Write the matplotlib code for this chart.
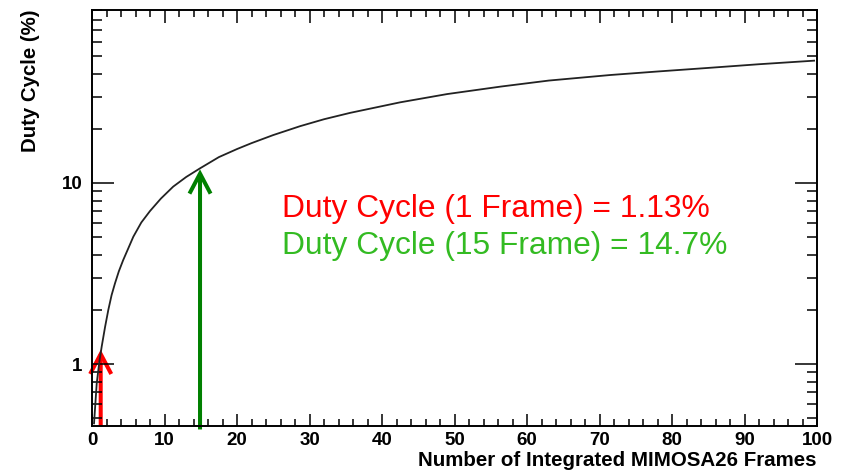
import matplotlib
matplotlib.use("Agg")
import matplotlib.pyplot as plt
from matplotlib.patches import FancyArrowPatch
from matplotlib.ticker import FixedLocator, LogLocator, NullFormatter, MultipleLocator

# ---- data ----
frames = [0.28, 0.65, 1.0, 1.34, 1.8, 2.25, 2.7, 3.17, 3.7, 4.3, 5.0, 5.7,
          6.8, 8.0, 9.5, 11.2, 13.0, 14.9, 17.5, 20.0, 22.0, 25.0, 28.7,
          32.0, 35.6, 42.5, 49.0, 56.4, 63.0, 71.5, 78.0, 84.9, 92.0, 99.6]
duty = [0.47, 0.78, 1.02, 1.25, 1.60, 1.99, 2.40, 2.79, 3.25, 3.75, 4.35,
        5.05, 6.05, 7.00, 8.20, 9.55, 10.8, 12.05, 13.9, 15.4, 16.6, 18.4,
        20.6, 22.5, 24.4, 27.9, 31.0, 34.1, 36.8, 39.5, 41.3, 43.2, 45.3, 47.4]

x_ticks = [0, 10, 20, 30, 40, 50, 60, 70, 80, 90, 100]
x_tick_labels = [str(v) for v in x_ticks]
y_ticks = [1, 10]
y_tick_labels = ['1', '10']

arrow_x = [1.2, 14.9]
arrow_base = [0.4545, 0.435]
arrow_tip = [1.2, 11.9]
arrow_colors = ['#ff0000', '#008000']

ann_texts = ['Duty Cycle (1 Frame) = 1.13%', 'Duty Cycle (15 Frame) = 14.7%']
ann_colors = ['#ff0000', '#33bb22']

xlabel = 'Number of Integrated MIMOSA26 Frames'
ylabel = 'Duty Cycle (%)'

# ---- figure ----
W, H = 848, 471
fig = plt.figure(figsize=(W / 100, H / 100), dpi=100)
L, R, T, B = 92, 817, 10, 426
ax = fig.add_axes([L / W, 1 - B / H, (R - L) / W, (B - T) / H])

ax.plot(frames, duty, color='#222222', lw=1.3, solid_joinstyle='round')
ax.set_yscale('log')
ax.set_xlim(0, 100)
ax.set_ylim(0.4545, 90.3)

ax.xaxis.set_major_locator(FixedLocator(x_ticks))
ax.set_xticklabels(x_tick_labels)
ax.xaxis.set_minor_locator(MultipleLocator(2))
ax.yaxis.set_major_locator(FixedLocator(y_ticks))
ax.set_yticklabels(y_tick_labels)
ax.yaxis.set_minor_locator(LogLocator(base=10, subs=[2, 3, 4, 5, 6, 7, 8, 9]))
ax.yaxis.set_minor_formatter(NullFormatter())

fam = ['Liberation Sans', 'DejaVu Sans']
ax.tick_params(which='both', direction='in', top=True, right=True, width=1.1, color='black')
ax.tick_params(axis='x', which='major', length=9, pad=4.5)
ax.tick_params(axis='x', which='minor', length=5)
ax.tick_params(axis='y', which='major', length=16, pad=7)
ax.tick_params(axis='y', which='minor', length=7.5)
for lab in ax.get_xticklabels() + ax.get_yticklabels():
    lab.set_fontfamily(fam)
    lab.set_fontweight('bold')
    lab.set_fontsize(13.5)
for s in ax.spines.values():
    s.set_linewidth(1.4)

# arrows
for xa, base, tip, c in zip(arrow_x, arrow_base, arrow_tip, arrow_colors):
    arr = FancyArrowPatch((xa, base), (xa, tip),
                          arrowstyle='->,head_length=0.72,head_width=0.38',
                          mutation_scale=20, lw=2.9, color=c,
                          shrinkA=0, shrinkB=0, clip_on=False,
                          joinstyle='miter', capstyle='butt')
    ax.add_patch(arr)

# annotations
fig.text(282 / W, 1 - 217 / H, ann_texts[0], color=ann_colors[0],
         fontsize=22.9, family=fam, ha='left', va='baseline')
fig.text(282 / W, 1 - 254 / H, ann_texts[1], color=ann_colors[1],
         fontsize=22.9, family=fam, ha='left', va='baseline')

# axis titles
fig.text(817 / W, 1 - 466.5 / H, xlabel, fontsize=14.8, fontweight='bold',
         family=fam, ha='right', va='baseline')
fig.text(30 / W, 1 - 10 / H, ylabel, fontsize=14.7, fontweight='bold',
         family=fam, ha='center', va='top', rotation=90)

fig.savefig('out.png', dpi=100)
